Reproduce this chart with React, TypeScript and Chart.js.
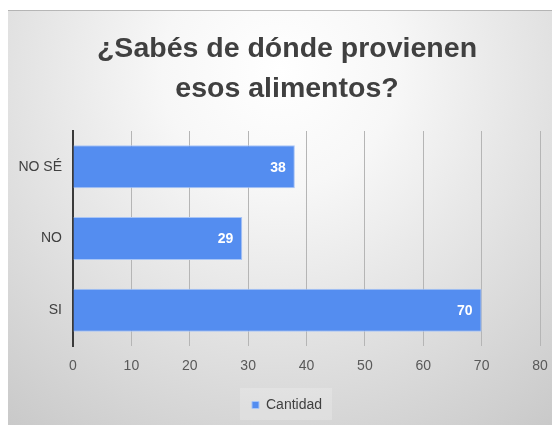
import React, { useEffect, useRef } from "react";
import { Chart, registerables } from "chart.js";

Chart.register(...registerables);

const TITLE_LINES = ["¿Sabés de dónde provienen", "esos alimentos?"];
const CATEGORIES = ["NO SÉ", "NO", "SI"];
const CANTIDAD = [38, 29, 70];
const SERIES_NAME = "Cantidad";
const X_MIN = 0;
const X_MAX = 80;
const X_STEP = 10;

const FONT = "'Liberation Sans', Arial, sans-serif";
const BAR_COLOR = "#548DF0";

const backgroundPlugin = {
  id: "bgPanel",
  beforeDraw(chart: any) {
    const { ctx, width, height } = chart;
    ctx.save();
    const g = ctx.createRadialGradient(272, 60, 0, 272, 60, 470);
    g.addColorStop(0, "#ffffff");
    g.addColorStop(0.25, "#f7f7f7");
    g.addColorStop(1, "#c6c6c6");
    ctx.fillStyle = g;
    ctx.fillRect(0, 0, width, height);
    ctx.fillStyle = "rgba(150,150,150,0.6)";
    ctx.fillRect(0, 0, width, 1);
    const lg = chart.legend;
    if (lg && lg.legendHitBoxes && lg.legendHitBoxes.length) {
      const hb = lg.legendHitBoxes[0];
      ctx.fillStyle = "rgba(255,255,255,0.2)";
      ctx.fillRect(hb.left - 12, hb.top - 10, hb.width + 22, hb.height + 18);
    }
    ctx.restore();
  },
};

const valueLabelPlugin = {
  id: "valueLabels",
  afterDatasetsDraw(chart: any) {
    const { ctx } = chart;
    const meta = chart.getDatasetMeta(0);
    const ds = chart.data.datasets[0];
    ctx.save();
    ctx.font = `bold 14px ${FONT}`;
    ctx.fillStyle = "#ffffff";
    ctx.textAlign = "right";
    ctx.textBaseline = "middle";
    meta.data.forEach((bar: any, i: number) => {
      ctx.fillText(String(ds.data[i]), bar.x - 9, bar.y + 1);
    });
    ctx.restore();
  },
};

export default function App() {
  const canvasRef = useRef<HTMLCanvasElement | null>(null);

  useEffect(() => {
    if (!canvasRef.current) return;
    Chart.defaults.font.family = FONT;
    const chart = new Chart(canvasRef.current, {
      type: "bar",
      data: {
        labels: CATEGORIES,
        datasets: [
          {
            label: SERIES_NAME,
            data: CANTIDAD,
            backgroundColor: BAR_COLOR,
            borderColor: "#a8c5f6",
            borderWidth: 1,
            categoryPercentage: 0.8,
            barPercentage: 0.75,
          },
        ],
      },
      options: {
        indexAxis: "y",
        responsive: false,
        animation: false,
        devicePixelRatio: 1,
        layout: { padding: { left: 26, right: 12, top: 0, bottom: 3 } },
        plugins: {
          title: {
            display: true,
            text: TITLE_LINES,
            color: "#404040",
            font: { size: 28.5, weight: "bold", family: FONT, lineHeight: 40 / 28.5 },
            padding: { top: 19, bottom: 22 },
          },
          legend: {
            display: true,
            position: "bottom",
            labels: {
              boxWidth: 7,
              boxHeight: 7,
              color: "#404040",
              font: { size: 14, family: FONT },
              padding: 10,
            },
          },
          tooltip: { enabled: false },
        },
        scales: {
          x: {
            min: X_MIN,
            max: X_MAX,
            ticks: {
              stepSize: X_STEP,
              color: "#595959",
              font: { size: 14, family: FONT },
              padding: 3,
            },
            grid: {
              display: true,
              color: "#b5b5b5",
              lineWidth: 1,
              drawTicks: true,
              tickLength: 9,
              tickColor: "rgba(0,0,0,0)",
            },
            border: { display: false },
            afterFit(scale: any) {
              scale.height = 42;
            },
          },
          y: {
            ticks: {
              color: "#404040",
              font: { size: 14, family: FONT },
              padding: 11,
            },
            grid: { display: false, drawTicks: false },
            border: { display: true, color: "#3a3a3a", width: 2 },
            afterFit(scale: any) {
              scale.width = 39;
              scale._computeLabelArea = () => undefined;
            },
          },
        },
      },
      plugins: [backgroundPlugin, valueLabelPlugin],
    } as any);
    return () => chart.destroy();
  }, []);

  return (
    <div style={{ position: "fixed", left: 8, top: 10, width: 544, height: 415 }}>
      <canvas ref={canvasRef} width={544} height={415} style={{ display: "block" }} />
    </div>
  );
}
